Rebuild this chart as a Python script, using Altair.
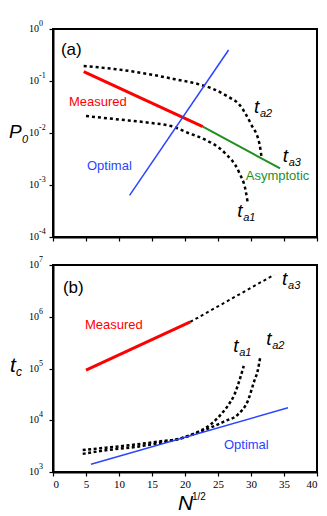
import altair as alt
import pandas as pd

# ---------------- axis ticks / labels ----------------
X_TICKS = [0, 5, 10, 15, 20, 25, 30, 35, 40]
P0_TICKS = [1, 0.1, 0.01, 0.001, 0.0001]
P0_EXP = ["0", "-1", "-2", "-3", "-4"]
TC_TICKS = [1e7, 1e6, 1e5, 1e4, 1e3]
TC_EXP = ["7", "6", "5", "4", "3"]

# ---------------- panel (a): P0 vs N^1/2 ----------------
a_meas_n = [4.65, 22.7]
a_meas_p = [0.151, 0.0132]
a_asym_n = [22.7, 34.4]
a_asym_p = [0.0132, 0.00209]
a_opt_n = [11.6, 26.6]
a_opt_p = [0.000631, 0.394]
a_ta1_n = [5.0, 10, 15, 17.9, 20.5, 22.9, 26.0, 28.2, 29.2, 29.5]
a_ta1_p = [0.0212, 0.0182, 0.0155, 0.0136, 0.0100, 0.00759, 0.00417, 0.00174, 0.000767, 0.000457]
a_ta2_n = [4.65, 10, 15, 18.5, 22, 24.4, 26.5, 28.2, 30.0, 31.3, 31.6]
a_ta2_p = [0.194, 0.166, 0.132, 0.108, 0.0871, 0.0692, 0.0501, 0.0355, 0.0148, 0.00603, 0.00339]

# ---------------- panel (b): t_c vs N^1/2 ----------------
b_meas_n = [5.0, 20.8]
b_meas_t = [93300, 794000]
b_ta3_n = [20.8, 33.5]
b_ta3_t = [794000, 6460000]
b_opt_n = [5.76, 35.6]
b_opt_t = [1413, 17400]
b_ta1_n = [4.5, 8, 12.8, 16, 19.4, 21.5, 23.9, 25.5, 26.5, 27.5, 28.2, 28.9]
b_ta1_t = [2660, 2950, 3430, 3890, 4470, 5620, 8320, 13200, 19100, 31600, 56200, 112000]
b_ta2_n = [4.5, 8, 12.8, 16, 19.4, 21.5, 23.9, 26, 28.0, 29.5, 30.5, 31.0, 31.4]
b_ta2_t = [2240, 2630, 3090, 3630, 4470, 5500, 7240, 9550, 12900, 23400, 57500, 89100, 166000]

# ---------------- annotations ----------------
a_words = ["(a)", "Measured", "Optimal", "Asymptotic"]
a_words_n = [1.2, 2.42, 5.15, 29.2]
a_words_p = [0.316, 0.0331, 0.00195, 0.00126]
a_words_c = ["black", "#ff0000", "#2a44ff", "#1f8f1f"]
a_words_s = [17, 13, 13, 13]
a_t_sub = ["a2", "a3", "a1"]
a_t_n = [30.45, 34.8, 27.9]
a_t_p = [0.0243, 0.00282, 0.000243]

b_words = ["(b)", "Measured", "Optimal"]
b_words_n = [1.5, 4.85, 25.9]
b_words_t = [2.92e6, 5.89e5, 2750]
b_words_c = ["black", "#ff0000", "#2a44ff"]
b_words_s = [17, 13, 13]
b_t_sub = ["a3", "a1", "a2"]
b_t_n = [34.7, 27.3, 32.3]
b_t_t = [4.07e6, 2.04e5, 2.82e5]

SANS = "Liberation Sans"
SERIF = "Liberation Serif"
RED, BLUE, GREEN = "#ff0000", "#2a44ff", "#1f8f1f"


def xenc(labels):
    return alt.X("n:Q", scale=alt.Scale(domain=[0, 40], nice=False, zero=False),
                 axis=alt.Axis(values=X_TICKS, labels=labels, title=None, tickSize=4,
                               labelPadding=2, grid=False))


def yenc(dom, ticks):
    return alt.Y("v:Q", scale=alt.Scale(type="log", domain=dom, nice=False),
                 axis=alt.Axis(values=ticks, labels=False, title=None, tickSize=4, grid=False))


def line(n, v, color, width, X, Y, dash=None):
    kw = dict(color=color, strokeWidth=width, interpolate="monotone")
    if dash:
        kw["strokeDash"] = dash
    return alt.Chart(pd.DataFrame({"n": n, "v": v})).mark_line(**kw).encode(x=X, y=Y)


def words(txt, n, v, colors, sizes, X, Y):
    df = pd.DataFrame({"n": n, "v": v, "txt": txt, "c": colors, "s": sizes})
    return alt.Chart(df).mark_text(align="left", baseline="alphabetic", font=SANS).encode(
        x=X, y=Y, text="txt:N",
        color=alt.Color("c:N", scale=None),
        size=alt.Size("s:Q", scale=None))


def t_labels(sub, n, v, X, Y):
    df = pd.DataFrame({"n": n, "v": v, "sub": sub, "t": ["t"] * len(sub)})
    base = alt.Chart(df)
    t = base.mark_text(align="left", baseline="alphabetic", font=SANS, fontStyle="italic",
                       fontSize=19, color="black").encode(x=X, y=Y, text="t:N")
    s = base.mark_text(align="left", baseline="alphabetic", font=SANS, fontStyle="italic",
                       fontSize=11, color="black", dx=6, dy=4).encode(x=X, y=Y, text="sub:N")
    return t + s


def tick_labels(ticks, exps, Y):
    df = pd.DataFrame({"v": ticks, "e": exps, "b": ["10"] * len(ticks)})
    base = alt.Chart(df)
    b = base.mark_text(align="left", baseline="middle", font=SERIF, fontSize=10,
                       color="black", x=-24).encode(y=Y, text="b:N")
    e = base.mark_text(align="left", baseline="middle", font=SERIF, fontSize=8,
                       color="black", x=-14, dy=-5).encode(y=Y, text="e:N")
    return b + e


def free_text(txt, x, y, size, italic=True):
    kw = dict(align="left", baseline="alphabetic", font=SANS, fontSize=size,
              color="black", x=x, y=y)
    if italic:
        kw["fontStyle"] = "italic"
    return alt.Chart(pd.DataFrame({"t": [txt]})).mark_text(**kw).encode(text="t:N")


# ---- panel a ----
XA = xenc(False)
YA = yenc([1e-4, 1], P0_TICKS)
top = alt.layer(
    line(a_ta1_n, a_ta1_p, "black", 2.5, XA, YA, [3, 3]),
    line(a_ta2_n, a_ta2_p, "black", 2.5, XA, YA, [3, 3]),
    line(a_meas_n, a_meas_p, RED, 3, XA, YA),
    line(a_asym_n, a_asym_p, GREEN, 2, XA, YA),
    line(a_opt_n, a_opt_p, BLUE, 1.5, XA, YA),
    words(a_words, a_words_n, a_words_p, a_words_c, a_words_s, XA, YA),
    t_labels(a_t_sub, a_t_n, a_t_p, XA, YA),
    tick_labels(P0_TICKS, P0_EXP, YA),
    free_text("P", -44, 109, 19),
    free_text("0", -31, 114, 11),
).properties(width=264, height=208)

# ---- panel b ----
XB = xenc(True)
YB = yenc([1e3, 1e7], TC_TICKS)
bottom = alt.layer(
    line(b_ta1_n, b_ta1_t, "black", 2.5, XB, YB, [3, 2.5]),
    line(b_ta2_n, b_ta2_t, "black", 2.5, XB, YB, [3, 2.5]),
    line(b_ta3_n, b_ta3_t, "black", 2, XB, YB, [3, 3]),
    line(b_meas_n, b_meas_t, RED, 3, XB, YB),
    line(b_opt_n, b_opt_t, BLUE, 1.5, XB, YB),
    words(b_words, b_words_n, b_words_t, b_words_c, b_words_s, XB, YB),
    t_labels(b_t_sub, b_t_n, b_t_t, XB, YB),
    tick_labels(TC_TICKS, TC_EXP, YB),
    free_text("t", -43, 107, 21),
    free_text("c", -37, 111, 12),
    free_text("N", 125, 245, 21),
    free_text("1/2", 139, 235, 10, italic=False),
).properties(width=264, height=207)

chart = alt.vconcat(top, bottom, spacing=28, bounds="flush").properties(
    padding={"left": 0, "top": 11, "right": 0, "bottom": 0}
).configure_view(stroke="black", strokeWidth=2).configure_axis(
    domainColor="black", domainWidth=2, tickColor="black", tickWidth=1.2,
    labelFont=SERIF, labelFontSize=11, labelColor="black", grid=False
)

chart.save("out.html", embed_options={"renderer": "svg", "actions": False})
